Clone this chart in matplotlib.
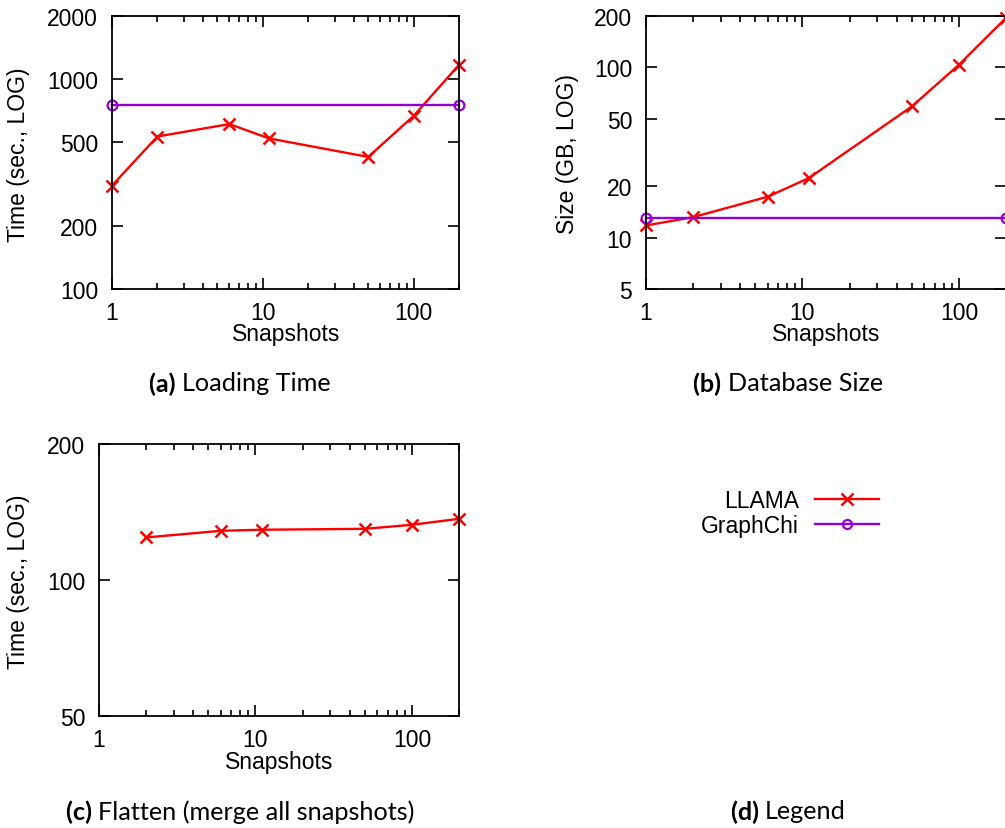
import numpy as np
import matplotlib
matplotlib.use('Agg')
import matplotlib.pyplot as plt
from matplotlib.ticker import LogLocator, FixedLocator, NullLocator, NullFormatter, FixedFormatter

plt.rcParams['font.family'] = 'Liberation Sans'

# data
snap_a = [1, 2, 6, 11, 50, 100, 200]
llama_load = [311, 533, 611, 522, 426, 668, 1170]
graphchi_x = [1, 200]
graphchi_load = [755, 755]

snap_b = [1, 2, 6, 11, 50, 100, 200]
llama_size = [11.8, 13.2, 17.4, 22.4, 58.9, 103.5, 195]
graphchi_size = [13.0, 13.0]

snap_c = [2, 6, 11, 50, 100, 200]
llama_flatten = [124.2, 128.5, 129.2, 129.8, 132.5, 136.6]

RED = '#ff0000'
PURPLE = '#9400d3'
W, H = 1005, 829

fig = plt.figure(figsize=(W / 100, H / 100), dpi=100)


def px_axes(l, t, r, b):
    return fig.add_axes([l / W, 1 - b / H, (r - l) / W, (b - t) / H])


def style(ax, yticks, ylabel, xlab_pos, ylab_pos):
    ax.set_xscale('log')
    ax.set_yscale('log')
    ax.set_xlim(1, 200)
    ax.xaxis.set_major_locator(FixedLocator([1, 10, 100]))
    ax.xaxis.set_major_formatter(FixedFormatter(['1', '10', '100']))
    ax.xaxis.set_minor_locator(LogLocator(base=10, subs=np.arange(2, 10), numticks=20))
    ax.xaxis.set_minor_formatter(NullFormatter())
    ax.yaxis.set_major_locator(FixedLocator(yticks))
    ax.yaxis.set_major_formatter(FixedFormatter([str(v) for v in yticks]))
    ax.yaxis.set_minor_locator(NullLocator())
    ax.tick_params(which='both', direction='in', top=True, right=True, labelsize=16.5, width=1.2)
    ax.tick_params(which='major', length=8)
    ax.tick_params(which='minor', length=4)
    ax.tick_params(axis='x', pad=9)
    ax.tick_params(axis='y', pad=10)
    for s in ax.spines.values():
        s.set_linewidth(1.3)
    ax.set_xlabel('Snapshots', fontsize=16.5, va='center')
    ax.set_ylabel(ylabel, fontsize=16.5, va='center')
    ax.xaxis.set_label_coords(xlab_pos[0] / W, 1 - xlab_pos[1] / H, transform=fig.transFigure)
    ax.yaxis.set_label_coords(ylab_pos[0] / W, 1 - ylab_pos[1] / H, transform=fig.transFigure)


line_kw = dict(lw=1.7, clip_on=False)

# (a) Loading time
ax1 = px_axes(112, 17, 459, 290)
ax1.plot(snap_a, llama_load, color=RED, marker='x', ms=9, mew=1.8, **line_kw)
ax1.plot(graphchi_x, graphchi_load, color=PURPLE, marker='o', ms=7, mfc='none', mew=1.6, **line_kw)
ax1.set_ylim(100, 2000)
style(ax1, [100, 200, 500, 1000, 2000], 'Time (sec., LOG)', (286, 335), (19, 155))

# (b) Database size
ax2 = px_axes(646, 17, 1006, 290)
ax2.plot(snap_b, llama_size, color=RED, marker='x', ms=9, mew=1.8, **line_kw)
ax2.plot(graphchi_x, graphchi_size, color=PURPLE, marker='o', ms=7, mfc='none', mew=1.6, **line_kw)
ax2.set_ylim(5, 200)
style(ax2, [5, 10, 20, 50, 100, 200], 'Size (GB, LOG)', (826, 335), (567, 154))

# (c) Flatten
ax3 = px_axes(99, 445, 459, 717)
ax3.plot(snap_c, llama_flatten, color=RED, marker='x', ms=9, mew=1.8, **line_kw)
ax3.set_ylim(50, 200)
style(ax3, [50, 100, 200], 'Time (sec., LOG)', (279, 763), (19, 582))

# (d) legend
handles = [plt.Line2D([], [], color=RED, marker='x', ms=8, mew=1.8, lw=1.7),
           plt.Line2D([], [], color=PURPLE, marker='o', ms=6.5, mfc='none', mew=1.6, lw=1.7)]
fig.legend(handles, ['LLAMA', 'GraphChi'], loc='center', bbox_to_anchor=(790 / W, 1 - 514 / H),
           frameon=False, fontsize=16.5, markerfirst=False, handlelength=2.8, handletextpad=0.7,
           labelspacing=0.1)

# captions
cap_font = ['Lato', 'DejaVu Sans']


def caption(x, y, tag, text):
    t1 = fig.text(0, 0, tag + ' ', fontsize=18.2, fontweight='bold', family=cap_font)
    t2 = fig.text(0, 0, text, fontsize=18.2, family=cap_font)
    fig.canvas.draw()
    r = fig.canvas.get_renderer()
    w1 = t1.get_window_extent(r).width
    w2 = t2.get_window_extent(r).width
    x0 = x - (w1 + w2) / 2
    t1.set_position((x0 / W, 1 - y / H))
    t2.set_position(((x0 + w1) / W, 1 - y / H))
    t1.set_va('center')
    t2.set_va('center')


caption(240, 384, '(a)', 'Loading Time')
caption(788, 384, '(b)', 'Database Size')
caption(240, 812, '(c)', 'Flatten (merge all snapshots)')
caption(788, 812, '(d)', 'Legend')

fig.savefig('out.png', dpi=100)
